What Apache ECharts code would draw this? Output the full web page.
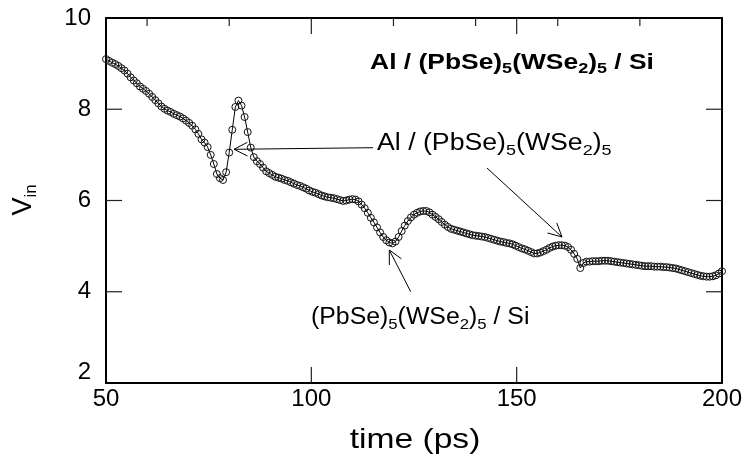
<!DOCTYPE html>
<html>
<head>
<meta charset="utf-8">
<script src="https://cdn.jsdelivr.net/npm/echarts@6/dist/echarts.min.js"></script>
<style>
html,body{margin:0;padding:0;background:#fff;}
#c{width:747px;height:459px;}
</style>
</head>
<body>
<div id="c"></div>
<script>
// ---- data ----
const timePs = [
50.00,50.75,51.50,52.25,53.00,53.75,54.50,55.25,56.00,56.75,
57.50,58.25,59.00,59.75,60.50,61.25,62.00,62.75,63.50,64.25,
65.00,65.75,66.50,67.25,68.00,68.75,69.50,70.25,71.00,71.75,
72.50,73.25,74.00,74.75,75.50,76.25,77.00,77.75,78.50,79.25,
80.00,80.75,81.50,82.25,83.00,83.75,84.50,85.25,86.00,86.75,
87.50,88.25,89.00,89.75,90.50,91.25,92.00,92.75,93.50,94.25,
95.00,95.75,96.50,97.25,98.00,98.75,99.50,100.25,101.00,101.75,
102.50,103.25,104.00,104.75,105.50,106.25,107.00,107.75,108.50,109.25,
110.00,110.75,111.50,112.25,113.00,113.75,114.50,115.25,116.00,116.75,
117.50,118.25,119.00,119.75,120.50,121.25,122.00,122.75,123.50,124.25,
125.00,125.75,126.50,127.25,128.00,128.75,129.50,130.25,131.00,131.75,
132.50,133.25,134.00,134.75,135.50,136.25,137.00,137.75,138.50,139.25,
140.00,140.75,141.50,142.25,143.00,143.75,144.50,145.25,146.00,146.75,
147.50,148.25,149.00,149.75,150.50,151.25,152.00,152.75,153.50,154.25,
155.00,155.75,156.50,157.25,158.00,158.75,159.50,160.25,161.00,161.75,
162.50,163.25,164.00,164.75,165.50,166.25,167.00,167.75,168.50,169.25,
170.00,170.75,171.50,172.25,173.00,173.75,174.50,175.25,176.00,176.75,
177.50,178.25,179.00,179.75,180.50,181.25,182.00,182.75,183.50,184.25,
185.00,185.75,186.50,187.25,188.00,188.75,189.50,190.25,191.00,191.75,
192.50,193.25,194.00,194.75,195.50,196.25,197.00,197.75,198.50,199.25,
200.00
];
const vIn = [
9.10,9.06,9.02,8.99,8.95,8.90,8.85,8.78,8.70,8.63,
8.57,8.50,8.45,8.40,8.34,8.27,8.20,8.13,8.06,8.01,
7.97,7.94,7.90,7.87,7.84,7.80,7.75,7.70,7.64,7.56,
7.46,7.34,7.27,7.17,7.00,6.80,6.58,6.49,6.45,6.62,
7.05,7.55,8.05,8.19,8.08,7.83,7.50,7.16,6.95,6.86,
6.80,6.72,6.64,6.60,6.56,6.52,6.50,6.48,6.45,6.43,
6.40,6.37,6.34,6.32,6.29,6.26,6.22,6.19,6.17,6.14,
6.11,6.09,6.07,6.06,6.05,6.03,6.01,5.99,6.00,6.02,
6.03,6.02,5.98,5.91,5.83,5.73,5.62,5.52,5.41,5.30,
5.20,5.13,5.08,5.06,5.10,5.20,5.33,5.45,5.55,5.63,
5.69,5.73,5.76,5.77,5.77,5.74,5.69,5.64,5.59,5.53,
5.47,5.42,5.38,5.36,5.34,5.32,5.30,5.28,5.26,5.24,
5.23,5.22,5.21,5.20,5.18,5.16,5.14,5.12,5.10,5.09,
5.07,5.06,5.04,5.01,4.98,4.95,4.93,4.90,4.87,4.84,
4.84,4.86,4.89,4.92,4.96,4.99,5.01,5.02,5.02,5.01,
4.98,4.92,4.83,4.72,4.52,4.63,4.66,4.66,4.67,4.67,
4.67,4.68,4.68,4.68,4.67,4.66,4.65,4.64,4.63,4.62,
4.61,4.60,4.59,4.58,4.57,4.56,4.56,4.56,4.55,4.55,
4.55,4.54,4.54,4.53,4.52,4.51,4.49,4.47,4.45,4.43,
4.41,4.39,4.37,4.35,4.34,4.33,4.33,4.34,4.36,4.40,
4.45
];
const xTicks = [50, 100, 150, 200];
const xInnerMajorTicks = [100, 150];
const xTopMinorTicks = [60, 80, 120, 140, 160, 180];
const yTicks = [2, 4, 6, 8, 10];
const yInnerTicks = [4, 6, 8];
const titleText = ['Al / (PbSe)', '5', '(WSe', '2', ')', '5', ' / Si'];
const note1 = ['Al / (PbSe)', '5', '(WSe', '2', ')', '5'];
const note2 = ['(PbSe)', '5', '(WSe', '2', ')', '5', ' / Si'];

// ---- chart ----
const FONT = '"Liberation Sans", Arial, Helvetica, sans-serif';
const chart = echarts.init(document.getElementById('c'), null, {renderer: 'canvas'});

function richStr(parts) {
  return parts.map((p, i) => (i % 2 === 0 ? '{m|' + p + '}' : '{s|' + p + '}')).join('');
}
function richDef(main, sub, bold, L) {
  return {
    m: {fontSize: main, fontFamily: FONT, fontWeight: bold ? 'bold' : 'normal', lineHeight: L, verticalAlign: 'middle', fill: '#000', color: '#000'},
    s: {fontSize: sub, fontFamily: FONT, fontWeight: bold ? 'bold' : 'normal', lineHeight: sub, verticalAlign: 'bottom', fill: '#000', color: '#000'}
  };
}
function arrowGraphics(tail, tip) {
  const dx = tail[0] - tip[0], dy = tail[1] - tip[1];
  const len = Math.sqrt(dx * dx + dy * dy);
  const ux = dx / len, uy = dy / len;
  const a = 27 * Math.PI / 180, L = 15;
  const r1 = [tip[0] + L * (ux * Math.cos(a) - uy * Math.sin(a)), tip[1] + L * (ux * Math.sin(a) + uy * Math.cos(a))];
  const r2 = [tip[0] + L * (ux * Math.cos(-a) - uy * Math.sin(-a)), tip[1] + L * (ux * Math.sin(-a) + uy * Math.cos(-a))];
  return [
    {type: 'line', shape: {x1: tail[0], y1: tail[1], x2: tip[0], y2: tip[1]}, style: {stroke: '#000', lineWidth: 1}, z: 10},
    {type: 'polyline', shape: {points: [r1, tip, r2]}, style: {stroke: '#000', lineWidth: 1, fill: null}, z: 10}
  ];
}
function tickLine(x1, y1, x2, y2) {
  return {type: 'line', shape: {x1: x1, y1: y1, x2: x2, y2: y2}, style: {stroke: '#222', lineWidth: 1.2}, z: 8, silent: true};
}

function axisLine() { return {show: true, onZero: false, lineStyle: {color: '#000', width: 2}}; }
const option = {
  animation: false,
  backgroundColor: '#fff',
  grid: {left: 106, right: 25, top: 18, bottom: 76, containLabel: false},
  xAxis: [
    {
      type: 'value', position: 'bottom', min: xTicks[0], max: xTicks[xTicks.length - 1], interval: 50,
      axisLine: axisLine(), axisTick: {show: false},
      axisLabel: {fontSize: 24, fontFamily: FONT, color: '#000', margin: 4},
      splitLine: {show: false}
    },
    {
      type: 'value', position: 'top', min: xTicks[0], max: xTicks[xTicks.length - 1], interval: 50,
      axisLine: axisLine(), axisTick: {show: false},
      axisLabel: {show: false}, splitLine: {show: false}
    }
  ],
  yAxis: [
    {
      type: 'value', position: 'left', min: yTicks[0], max: yTicks[yTicks.length - 1], interval: 2,
      axisLine: axisLine(), axisTick: {show: false},
      axisLabel: {
        fontSize: 24, fontFamily: FONT, color: '#000', margin: 15,
        formatter: function (v) { return v === 2 ? '{lo|2}' : String(v); },
        rich: {lo: {fontSize: 24, fontFamily: FONT, color: '#000', padding: [0, 0, 22, 0]}}
      },
      splitLine: {show: false}
    },
    {
      type: 'value', position: 'right', min: yTicks[0], max: yTicks[yTicks.length - 1], interval: 2,
      axisLine: axisLine(), axisTick: {show: false},
      axisLabel: {show: false}, splitLine: {show: false}
    }
  ],
  series: [{
    type: 'line',
    xAxisIndex: 0, yAxisIndex: 0,
    data: timePs.map((t, i) => [t, vIn[i]]),
    showSymbol: true, showAllSymbol: true,
    symbol: 'circle', symbolSize: 7,
    lineStyle: {color: '#000', width: 1},
    itemStyle: {color: 'rgba(255,255,255,0)', borderColor: '#111', borderWidth: 1}
  }]
};
chart.setOption(option);

// tick marks placed through the axes' own scales
const toX = v => chart.convertToPixel({xAxisIndex: 0}, v);
const toY = v => chart.convertToPixel({yAxisIndex: 0}, v);
const xL = toX(xTicks[0]), xR = toX(xTicks[xTicks.length - 1]);
const yB = toY(yTicks[0]), yT = toY(yTicks[yTicks.length - 1]);
const ticks = [];
xInnerMajorTicks.forEach(v => {
  const px = toX(v);
  ticks.push(tickLine(px, yB, px, yB - 16));
  ticks.push(tickLine(px, yT, px, yT + 16));
});
xTopMinorTicks.forEach(v => {
  const px = toX(v);
  ticks.push(tickLine(px, yT, px, yT + 8));
});
yInnerTicks.forEach(v => {
  const py = toY(v);
  ticks.push(tickLine(xL, py, xL + 16, py));
  ticks.push(tickLine(xR, py, xR - 16, py));
});

const graphics = [
  {type: 'text', x: 415, y: 440, scaleX: 1.2, style: {text: 'time (ps)', fontSize: 28, fontFamily: FONT, fill: '#000', align: 'center', verticalAlign: 'middle'}},
  {type: 'text', x: 24, y: 200, rotation: Math.PI / 2, style: {text: '{m|V}{s|in}', rich: richDef(27, 17, false, 32), align: 'center', verticalAlign: 'middle'}},
  {type: 'text', x: 512, y: 48.5, scaleX: 1.2, style: {text: richStr(titleText), rich: richDef(22, 15, true, 28), align: 'center', verticalAlign: 'top'}},
  {type: 'text', x: 377, y: 128.6, scaleX: 1.16, style: {text: richStr(note1), rich: richDef(23, 15.5, false, 30), align: 'left', verticalAlign: 'top'}},
  {type: 'text', x: 311, y: 303, scaleX: 1.08, style: {text: richStr(note2), rich: richDef(23, 15.5, false, 30), align: 'left', verticalAlign: 'top'}}
]
  .concat(arrowGraphics([373, 147.7], [234, 149.3]))
  .concat(arrowGraphics([487, 168], [562, 237]))
  .concat(arrowGraphics([410.7, 291.7], [389.3, 250]))
  .concat(ticks);

chart.setOption({graphic: graphics});
</script>
</body>
</html>
